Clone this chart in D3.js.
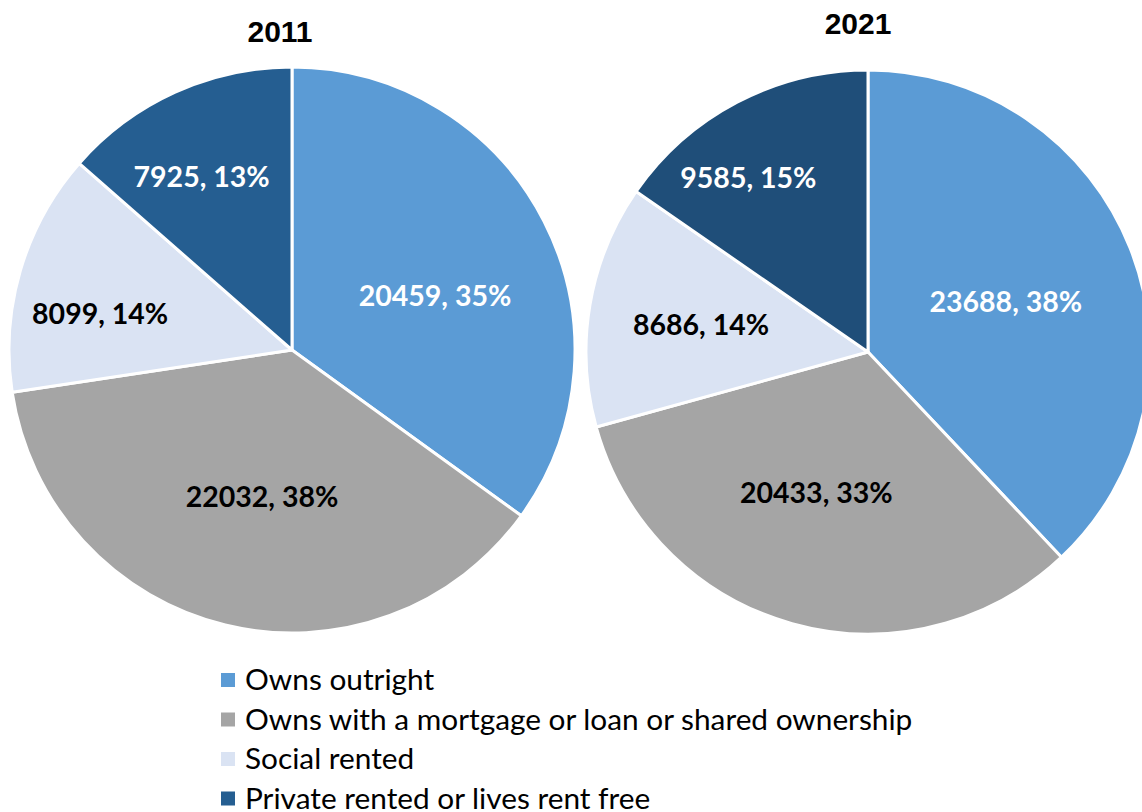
<!DOCTYPE html>
<html>
<head>
<meta charset="utf-8">
<script src="https://cdn.jsdelivr.net/npm/d3@7"></script>
<style>
  body { margin: 0; background: #fff; }
  svg { display: block; }
</style>
</head>
<body>
<div id="chart"></div>
<script>
// data
const categories = ['Owns outright', 'Owns with a mortgage or loan or shared ownership', 'Social rented', 'Private rented or lives rent free'];
const years = ['2011', '2021'];
const values2011 = [20459, 22032, 8099, 7925];
const values2021 = [23688, 20433, 8686, 9585];
const percent2011 = ['35%', '38%', '14%', '13%'];
const percent2021 = ['38%', '33%', '14%', '15%'];

const width = 1142, height = 812;
const colors = ['#5B9BD5', '#A5A5A5', '#DAE3F3', '#255E91'];
const labelColors = ['#fff', '#000', '#000', '#fff'];

// layout for each pie (Excel "best fit" label placement: radius fraction + angle nudge in degrees)
const pies = [
  { title: years[0], values: values2011, pct: percent2011, cx: 292, cy: 350, r: 283, titleY: 42, titleX: 280,
    dark: '#255E91', labelR: [0.54, 0.53, 0.69, 0.69], labelA: [6.4, -2.1, -5.6, -3.2] },
  { title: years[1], values: values2021, pct: percent2021, cx: 868, cy: 352, r: 282, titleY: 34, titleX: 858,
    dark: '#1F4E79', labelR: [0.52, 0.53, 0.6, 0.75], labelA: [1.7, 4.6, -0.4, -6.8] }
];

const svg = d3.select('#chart').append('svg')
  .attr('width', width)
  .attr('height', height);

const pie = d3.pie().sort(null).value(d => d);

pies.forEach(p => {
  const g = svg.append('g').attr('transform', `translate(${p.cx},${p.cy})`);
  const arc = d3.arc().innerRadius(0).outerRadius(p.r);
  const arcs = pie(p.values);

  g.selectAll('path.slice')
    .data(arcs)
    .enter()
    .append('path')
    .attr('class', 'slice')
    .attr('d', arc)
    .attr('fill', (d, i) => i === 3 ? p.dark : colors[i])
    .attr('stroke', '#fff')
    .attr('stroke-width', 3)
    .attr('stroke-linejoin', 'round');

  // value + percent labels
  g.selectAll('text.label')
    .data(arcs)
    .enter()
    .append('text')
    .attr('class', 'label')
    .attr('transform', (d, i) => {
      const lr = p.r * p.labelR[i];
      const mid = (d.startAngle + d.endAngle) / 2 + p.labelA[i] * Math.PI / 180;
      return `translate(${lr * Math.sin(mid)},${-lr * Math.cos(mid)})`;
    })
    .attr('text-anchor', 'middle')
    .attr('dy', '0.36em')
    .attr('fill', (d, i) => labelColors[i])
    .attr('font-family', 'Lato, "Open Sans", sans-serif')
    .attr('font-weight', 'bold')
    .attr('font-size', '28.5px')
    .text((d, i) => `${d.data}, ${p.pct[i]}`);

  svg.append('text')
    .attr('x', p.titleX)
    .attr('y', p.titleY)
    .attr('text-anchor', 'middle')
    .attr('font-family', '"Liberation Sans", Arial, sans-serif')
    .attr('font-weight', 'bold')
    .attr('font-size', '30px')
    .attr('fill', '#000')
    .text(p.title);
});

// legend
const legend = svg.append('g').attr('transform', 'translate(221,680)');
const items = legend.selectAll('g')
  .data(categories)
  .enter()
  .append('g')
  .attr('transform', (d, i) => `translate(0,${i * 39.5})`);

items.append('rect')
  .attr('x', 0)
  .attr('y', -7)
  .attr('width', 14)
  .attr('height', 14)
  .attr('fill', (d, i) => colors[i]);

items.append('text')
  .attr('x', 24)
  .attr('y', 0)
  .attr('dy', '0.35em')
  .attr('font-family', 'Lato, "Open Sans", sans-serif')
  .attr('font-size', '29.8px')
  .attr('fill', '#000')
  .text(d => d);
</script>
</body>
</html>
